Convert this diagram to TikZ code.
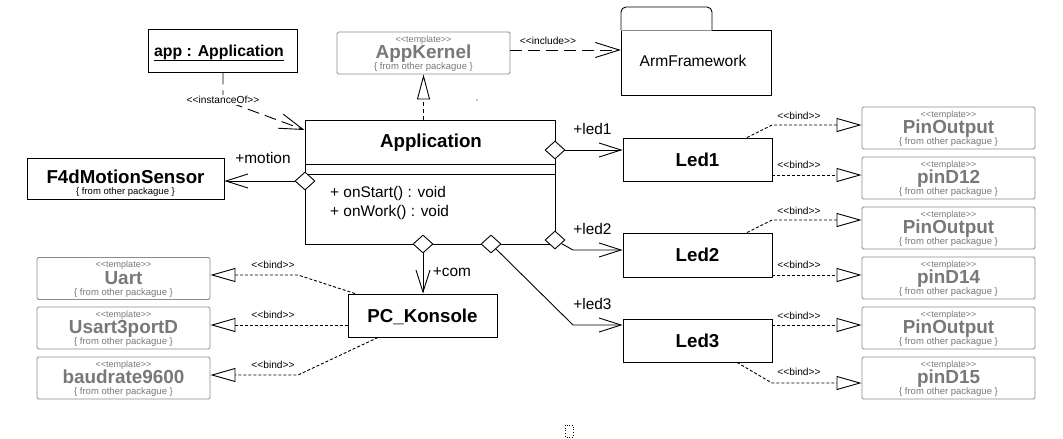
\documentclass[tikz,border=0pt]{standalone}
\usepackage{fontspec}
\setmainfont{Liberation Sans}
\usetikzlibrary{arrows.meta,shapes.geometric}
\definecolor{tgray}{RGB}{140,140,140}
\definecolor{ttext}{RGB}{120,120,120}
\newcommand\fsz[1]{\fontsize{#1}{#1}\selectfont}
\newcommand\dlt{<\kern0pt<}
\newcommand\dgt{>\kern0pt>}
\newcommand\tplbox[4]{%
  \node[tpl] (#1) at (#2,#3) {};
  \node[tst] (#1-s) at (#2,#3-11) {\dlt template\dgt};
  \node[tnm] (#1-n) at (#2,#3+5.5) {#4};
  \node[tfr] (#1-f) at (#2,#3+16.5) {\{ from other packague \}};
}
\begin{document}
\begin{tikzpicture}[x=1pt,y=-1pt,
  lw/.style={line width=0.9pt},
  cls/.style={draw,lw,inner sep=0,font=\fsz{18.7}\bfseries,text height=13.4pt,text depth=0pt},
  tpl/.style={draw=tgray,lw,rounded corners=1.5pt,minimum width=173pt,minimum height=42pt,inner sep=0},
  tst/.style={text=ttext,font=\fsz{9},anchor=base,inner sep=0},
  tnm/.style={text=ttext,font=\fsz{18.9}\bfseries,anchor=base,inner sep=0},
  tfr/.style={text=ttext,font=\fsz{9.5},anchor=base,inner sep=0},
  lbl/.style={font=\fsz{10.2},inner sep=0},
  rl/.style={font=\fsz{15.4},inner sep=0},
  agg/.style={diamond,draw,fill=white,lw,minimum width=20pt,minimum height=18pt,inner sep=0},
  assoc/.style={draw,lw,-{Straight Barb[length=22pt,width=14pt]}},
  bindl/.style={draw,lw,dash pattern=on 3pt off 2pt,-{Triangle[open,length=25pt,width=14pt,fill=white]}},
  real/.style={draw,lw,dash pattern=on 4pt off 3pt,-{Triangle[open,length=25pt,width=13pt,fill=white]}},
  longdash/.style={draw,lw,dash pattern=on 12pt off 6pt,-{Straight Barb[length=24pt,width=15pt]}}
]
\useasboundingbox (0,0) rectangle (1063,439);

% app : Application
\node[draw,lw,minimum width=149pt,minimum height=43pt,inner sep=0] (app) at (222.5,50.5) {};
\node[font=\fsz{15.8}\bfseries,anchor=base,inner sep=0] (appt) at (219,56) {\underline{app : Application}};

% AppKernel
\tplbox{ak}{423.5}{53}{AppKernel}

% ArmFramework package
\draw[lw,rounded corners=5pt] (621,30) -- (621,7) -- (712,7) -- (712,30);
\draw[lw] (712,30) -- (771,30) -- (771,95) -- (621,95) -- (621,30);
\draw[line width=0.8pt,tgray] (621,30) -- (712,30);
\node[minimum width=150pt,minimum height=65pt,inner sep=0] (arm) at (696,62.5) {};
\node[font=\fsz{15.6},inner sep=0] (armt) at (693,61) {ArmFramework};

% Application class
\node[draw,lw,minimum width=250pt,minimum height=124pt,inner sep=0] (appc) at (430,182) {};
\draw[lw] (appc.west |- 0,164) -- (appc.east |- 0,164);
\draw[lw] (appc.west |- 0,174) -- (appc.east |- 0,174);
\node[font=\fsz{18.7}\bfseries,anchor=base,inner sep=0] (appn) at (431,147) {Application};
\node[font=\fsz{15.4},anchor=base west,inner sep=0] (op1) at (330,197.5) {+ onStart() : void};
\node[font=\fsz{15.4},anchor=base west,inner sep=0] (op2) at (330,216) {+ onWork() : void};

% F4dMotionSensor
\node[draw,lw,minimum width=197pt,minimum height=41pt,inner sep=0] (f4d) at (125.5,178.5) {};
\node[font=\fsz{18.7}\bfseries,anchor=base,inner sep=0] (f4dn) at (125.5,183.5) {F4dMotionSensor};
\node[font=\fsz{9.5},anchor=base,inner sep=0] (f4df) at (125.5,194) {\{ from other packague \}};

% Leds
\node[cls,minimum width=149pt,minimum height=43pt] (led1) at (697.5,159.5) {Led1};
\node[cls,minimum width=149pt,minimum height=44pt] (led2) at (697.5,255) {Led2};
\node[cls,minimum width=149pt,minimum height=43pt] (led3) at (697.5,340.5) {Led3};
\node[cls,minimum width=149pt,minimum height=43pt] (pck) at (422.5,315.5) {PC\_Konsole};

% templates right
\tplbox{po1}{948.5}{128}{PinOutput}
\tplbox{pd12}{948.5}{178}{pinD12}
\tplbox{po2}{948.5}{228}{PinOutput}
\tplbox{pd14}{948.5}{278}{pinD14}
\tplbox{po3}{948.5}{328}{PinOutput}
\tplbox{pd15}{948.5}{378}{pinD15}
% templates left
\tplbox{uart}{123.5}{278.5}{Uart}
\tplbox{usart}{123.5}{328}{Usart3portD}
\tplbox{baud}{123.5}{378}{baudrate9600}

% aggregation diamonds
\node[agg] (dm) at (305,181) {};
\node[agg] (dl1) at (555,150) {};
\node[agg] (dl2) at (555,240) {};
\node[agg] (dc) at (423,244) {};
\node[agg] (dl3) at (491,244) {};

% coordinates
\coordinate (io) at (223,100);
\coordinate (iot) at (305,130);
\coordinate (inc) at (600,50);
\coordinate (kl2) at (573,250);
\coordinate (kl3) at (573,325);
\coordinate (b1a) at (772,125);
\coordinate (b1b) at (772,175);
\coordinate (b2a) at (772,220);
\coordinate (b2b) at (772,275);
\coordinate (b3a) at (772,325);
\coordinate (b3b) at (772,383);
\coordinate (bu) at (298,275);
\coordinate (bs) at (298,325);
\coordinate (bb) at (298,375);

% instanceOf
\draw[longdash] (app.south -| io) -- (io) -- (appc.west |- iot);
\node[lbl,fill=white,inner sep=1pt] (iol) at (223,100) {\dlt instanceOf\dgt};
% realization
\draw[real] (ak.south |- appc.north) -- (ak.south);
% include
\draw[longdash] (ak.east |- inc) -- (arm.west |- inc);
\node[lbl] (incl) at (548,41) {\dlt include\dgt};

% associations
\draw[assoc] (dm.west) -- (f4d.east |- dm.west);
\node[rl] (lm) at (263,158) {+motion};
\draw[assoc] (dl1.east) -- (led1.west |- dl1.east);
\node[rl] (l1) at (592.5,129) {+led1};
\draw[assoc] (dl2) -- (kl2) -- (led2.west |- kl2);
\node[rl] (l2) at (592.5,229) {+led2};
\draw[assoc] (dl3) -- (kl3) -- (led3.west |- kl3);
\node[rl] (l3) at (592.5,304) {+led3};
\draw[assoc] (dc.south) -- (pck.north -| dc.south);
\node[rl] (lc) at (452,272.5) {+com};

% binds right
\draw[bindl] ([xshift=49.5pt]led1.north) -- (b1a) -- (po1.west |- b1a);
\node[lbl] (t1a) at (799,115.5) {\dlt bind\dgt};
\draw[bindl] (led1.east |- b1b) -- (pd12.west |- b1b);
\node[lbl] (t1b) at (799,164.5) {\dlt bind\dgt};
\draw[bindl] ([xshift=49.5pt]led2.north) -- (b2a) -- (po2.west |- b2a);
\node[lbl] (t2a) at (799,210.5) {\dlt bind\dgt};
\draw[bindl] (led2.east |- b2b) -- (pd14.west |- b2b);
\node[lbl] (t2b) at (799,264.5) {\dlt bind\dgt};
\draw[bindl] (led3.east |- b3a) -- (po3.west |- b3a);
\node[lbl] (t3a) at (799,315.5) {\dlt bind\dgt};
\draw[bindl] ([xshift=39.5pt]led3.south) -- (b3b) -- (pd15.west |- b3b);
\node[lbl] (t3b) at (799,372) {\dlt bind\dgt};

% binds left
\draw[bindl] ([xshift=-67.5pt]pck.north) -- (bu) -- (uart.east |- bu);
\node[lbl] (tu) at (273,265) {\dlt bind\dgt};
\draw[bindl] (pck.west |- bs) -- (usart.east |- bs);
\node[lbl] (ts) at (273,314.5) {\dlt bind\dgt};
\draw[bindl] ([xshift=-44.5pt]pck.south) -- (bb) -- (baud.east |- bb);
\node[lbl] (tb) at (273,365) {\dlt bind\dgt};

% stray marks
\fill (477,100) circle (0.6);
\draw[dotted,line width=0.7pt] (565,425) rectangle (573,437);
\end{tikzpicture}
\end{document}
